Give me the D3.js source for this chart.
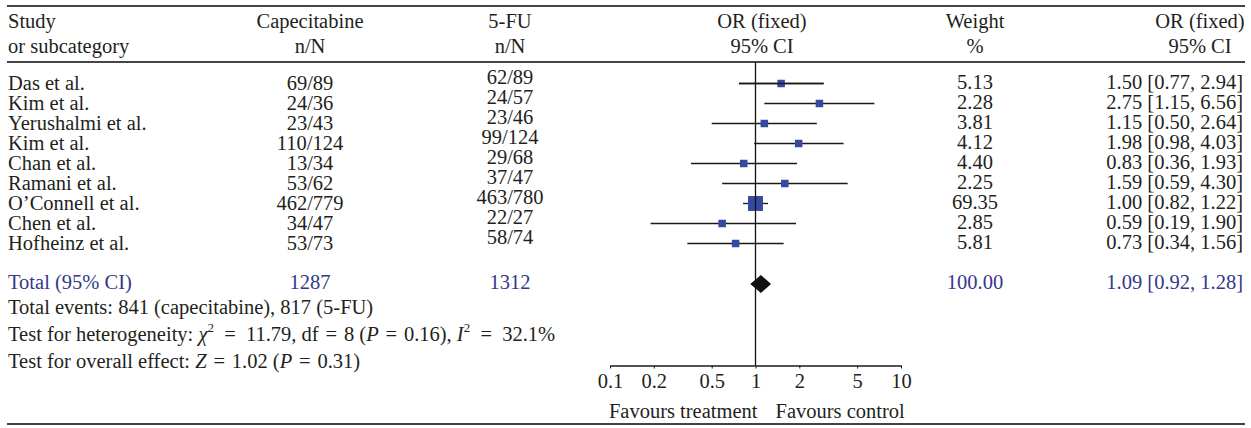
<!DOCTYPE html>
<html>
<head>
<meta charset="utf-8">
<script src="https://cdn.jsdelivr.net/npm/d3@7"></script>
<style>
  body { margin: 0; background: #fff; }
  svg text { font-family: "Liberation Serif", "Times New Roman", serif; fill: #231f20; }
</style>
</head>
<body>
<svg id="chart" width="1251" height="428"></svg>
<script>
// forest plot data
const studies = ['Das et al.', 'Kim et al.', 'Yerushalmi et al.', 'Kim et al.', 'Chan et al.',
                 'Ramani et al.', 'O\u2019Connell et al.', 'Chen et al.', 'Hofheinz et al.'];
const capecitabine = ['69/89', '24/36', '23/43', '110/124', '13/34', '53/62', '462/779', '34/47', '53/73'];
const fluorouracil = ['62/89', '24/57', '23/46', '99/124', '29/68', '37/47', '463/780', '22/27', '58/74'];
const weights = [5.13, 2.28, 3.81, 4.12, 4.40, 2.25, 69.35, 2.85, 5.81];
const oddsRatio = [1.50, 2.75, 1.15, 1.98, 0.83, 1.59, 1.00, 0.59, 0.73];
const ciLow = [0.77, 1.15, 0.50, 0.98, 0.36, 0.59, 0.82, 0.19, 0.34];
const ciHigh = [2.94, 6.56, 2.64, 4.03, 1.93, 4.30, 1.22, 1.90, 1.56];
const total = { cap: '1287', fu: '1312', weight: '100.00', or: 1.09, lo: 0.92, hi: 1.28 };
const axisTicks = [0.1, 0.2, 0.5, 1, 2, 5, 10];

const fs = 20.5;
const svg = d3.select('#chart');
const fmt = d3.format('.2f');

const x = d3.scaleLog().domain([0.1, 10]).range([610, 901]);
const y = d3.scalePoint().domain(d3.range(studies.length)).range([83.5, 243.5]);
const boxSize = d3.scaleSqrt().domain([0, 70]).range([0, 15]);
const minBox = 7.5;
const side = w => Math.max(minBox, boxSize(w));

const col = { study: 8, cap: 310, fu: 510, or: 762, weight: 975, ciRight: 1243, ciHead: 1200 };

// horizontal rules
[6, 62, 424].forEach(yy => {
    svg.append('line').attr('x1', 7).attr('x2', 1245).attr('y1', yy).attr('y2', yy)
        .attr('stroke', '#444').attr('stroke-width', 1.8);
});

// header
const header = (tx, xx, yy, anchor) => svg.append('text').attr('x', xx).attr('y', yy)
    .attr('text-anchor', anchor || 'middle').attr('font-size', fs).text(tx);
header('Study', col.study, 28, 'start');
header('or subcategory', col.study, 53, 'start');
header('Capecitabine', col.cap, 28);
header('n/N', col.cap, 53);
header('5-FU', col.fu, 28);
header('n/N', col.fu, 53);
header('OR (fixed)', col.or, 28);
header('95% CI', col.or, 53);
header('Weight', col.weight, 28);
header('%', col.weight, 53);
header('OR (fixed)', col.ciHead, 28);
header('95% CI', col.ciHead, 53);

// study rows
const rows = svg.selectAll('g.row').data(studies).enter().append('g').attr('class', 'row');
rows.append('text').attr('x', col.study).attr('y', (d, i) => y(i) + 6)
    .attr('font-size', fs).text(d => d);
rows.append('text').attr('x', col.cap).attr('y', (d, i) => y(i) + 6)
    .attr('text-anchor', 'middle').attr('font-size', fs).text((d, i) => capecitabine[i]);
rows.append('text').attr('x', col.fu).attr('y', (d, i) => y(i))
    .attr('text-anchor', 'middle').attr('font-size', fs).text((d, i) => fluorouracil[i]);
rows.append('text').attr('x', col.weight).attr('y', (d, i) => y(i) + 5)
    .attr('text-anchor', 'middle').attr('font-size', fs).text((d, i) => fmt(weights[i]));
rows.append('text').attr('x', col.ciRight).attr('y', (d, i) => y(i) + 5)
    .attr('text-anchor', 'end').attr('font-size', fs)
    .text((d, i) => fmt(oddsRatio[i]) + ' [' + fmt(ciLow[i]) + ', ' + fmt(ciHigh[i]) + ']');

// line of no effect
svg.append('line').attr('x1', x(1)).attr('x2', x(1)).attr('y1', 62).attr('y2', 365)
    .attr('stroke', '#111').attr('stroke-width', 1.3);

// confidence intervals and boxes
rows.append('line').attr('x1', (d, i) => x(ciLow[i])).attr('x2', (d, i) => x(ciHigh[i]))
    .attr('y1', (d, i) => y(i)).attr('y2', (d, i) => y(i))
    .attr('stroke', '#1a1a1a').attr('stroke-width', 1.3);
rows.append('rect')
    .attr('width', (d, i) => side(weights[i]))
    .attr('height', (d, i) => side(weights[i]))
    .attr('x', (d, i) => x(oddsRatio[i]) - side(weights[i]) / 2)
    .attr('y', (d, i) => y(i) - side(weights[i]) / 2)
    .attr('fill', '#3549a0');
// whisker drawn over the large box
rows.filter((d, i) => boxSize(weights[i]) > minBox).append('line')
    .attr('x1', (d, i) => x(ciLow[i])).attr('x2', (d, i) => x(ciHigh[i]))
    .attr('y1', (d, i) => y(i)).attr('y2', (d, i) => y(i))
    .attr('stroke', '#1a1a1a').attr('stroke-width', 1.3);

// total row
const totalY = 284;
const navy = '#34388c';
const tot = (tx, xx, anchor) => svg.append('text').attr('x', xx).attr('y', totalY + 5)
    .attr('text-anchor', anchor).attr('font-size', fs).style('fill', navy).text(tx);
tot('Total (95% CI)', col.study, 'start');
tot(total.cap, col.cap, 'middle');
tot(total.fu, col.fu, 'middle');
tot(total.weight, col.weight, 'middle');
tot(fmt(total.or) + ' [' + fmt(total.lo) + ', ' + fmt(total.hi) + ']', col.ciRight, 'end');
svg.append('path')
    .attr('d', 'M' + x(total.lo) + ',' + totalY + 'L' + x(total.or) + ',' + (totalY - 9) +
        'L' + x(total.hi) + ',' + totalY + 'L' + x(total.or) + ',' + (totalY + 9) + 'Z')
    .attr('fill', '#111');

// footnotes (math signs get wider spacing, as in the typeset original)
const en = '\u2002', thick = '\u2004';
svg.append('text').attr('x', col.study).attr('y', 314).attr('font-size', fs)
    .text('Total events: 841 (capecitabine), 817 (5-FU)');
const het = svg.append('text').attr('x', col.study).attr('y', 341).attr('font-size', fs);
het.append('tspan').text('Test for heterogeneity: ');
het.append('tspan').attr('font-style', 'italic').text('\u03c7');
het.append('tspan').attr('font-size', 13).attr('dy', -9).text('2');
het.append('tspan').attr('dy', 9).text(en + '=' + en + '11.79, df' + thick + '=' + thick + '8 (');
het.append('tspan').attr('font-style', 'italic').text('P');
het.append('tspan').text(thick + '=' + thick + '0.16), ');
het.append('tspan').attr('font-style', 'italic').text('I');
het.append('tspan').attr('font-size', 13).attr('dy', -9).text('2');
het.append('tspan').attr('dy', 9).text(en + '=' + en + '32.1%');
const eff = svg.append('text').attr('x', col.study).attr('y', 368).attr('font-size', fs);
eff.append('tspan').text('Test for overall effect: ');
eff.append('tspan').attr('font-style', 'italic').text('Z');
eff.append('tspan').text(thick + '=' + thick + '1.02 (');
eff.append('tspan').attr('font-style', 'italic').text('P');
eff.append('tspan').text(thick + '=' + thick + '0.31)');

// log axis
const axis = svg.append('g').attr('transform', 'translate(0,365.5)')
    .call(d3.axisBottom(x).tickValues(axisTicks).tickFormat(d3.format('')).tickSize(3).tickSizeOuter(0));
axis.select('.domain').attr('stroke', '#1a1a1a').attr('stroke-width', 1.3);
axis.selectAll('.tick line').attr('stroke', '#1a1a1a');
axis.selectAll('.tick text').attr('font-size', fs).attr('font-family', '"Liberation Serif", serif')
    .attr('y', 8).attr('dy', '0.71em').style('fill', '#231f20');

svg.append('text').attr('x', x(1) + 2).attr('y', 418).attr('text-anchor', 'end').attr('font-size', fs)
    .text('Favours treatment');
svg.append('text').attr('x', x(1) + 20).attr('y', 418).attr('font-size', fs)
    .text('Favours control');
</script>
</body>
</html>
